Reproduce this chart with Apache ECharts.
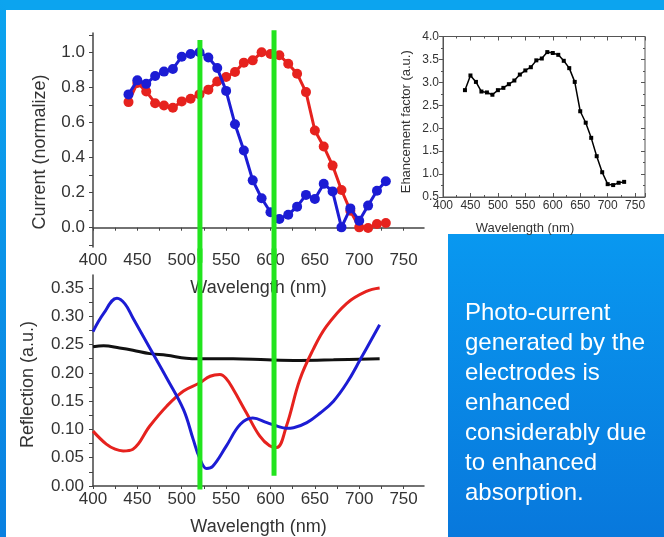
<!DOCTYPE html>
<html><head><meta charset="utf-8">
<script src="https://cdn.jsdelivr.net/npm/echarts@6/dist/echarts.min.js"></script>
<style>html,body{margin:0;padding:0;width:664px;height:537px;overflow:hidden;background:#fff}#c{width:664px;height:537px}</style>
</head><body><div id="c"></div>
<script>
// ---- Data ----
const wavelengths = [440,450,460,470,480,490,500,510,520,530,540,550,560,570,580,590,600,610,620,630,640,650,660,670,680,690,700,710,720,730];
const currentBlue = [0.76,0.84,0.82,0.865,0.89,0.905,0.975,0.99,1.0,0.97,0.91,0.78,0.59,0.44,0.27,0.168,0.088,0.05,0.074,0.12,0.187,0.164,0.25,0.207,0.002,0.11,0.04,0.126,0.211,0.265];
const currentRed = [0.716,0.825,0.777,0.71,0.697,0.684,0.72,0.735,0.76,0.787,0.834,0.859,0.888,0.941,0.954,1.0,0.99,0.983,0.935,0.878,0.773,0.554,0.463,0.354,0.215,0.097,0.002,-0.002,0.021,0.027];
const enhancement = [2.83,3.15,3.01,2.80,2.78,2.73,2.83,2.88,2.96,3.04,3.17,3.26,3.33,3.48,3.52,3.66,3.64,3.60,3.47,3.31,3.01,2.37,2.12,1.79,1.39,1.04,0.78,0.76,0.81,0.83];

const reflBlueWl = [400,412,427,436,445,464,483,502,513,520,528,535,550,566,580,596,607,618,626,641,656,671,686,701,723];
const reflBlue   = [0.273,0.305,0.332,0.322,0.297,0.244,0.191,0.135,0.082,0.05,0.031,0.035,0.07,0.109,0.12,0.112,0.106,0.102,0.103,0.112,0.129,0.150,0.182,0.223,0.285];
const reflRedWl = [400,415,425,434,445,464,483,502,520,532,543,550,558,573,588,599,607,618,633,648,663,686,708,723];
const reflRed   = [0.097,0.074,0.065,0.062,0.065,0.106,0.141,0.168,0.182,0.194,0.197,0.19,0.171,0.129,0.088,0.071,0.068,0.106,0.188,0.241,0.282,0.323,0.344,0.350];
const reflBlackWl = [400,412,430,445,464,483,505,520,558,596,633,671,723];
const reflBlack   = [0.246,0.248,0.244,0.240,0.234,0.231,0.226,0.225,0.225,0.223,0.222,0.223,0.225];

// green marker lines (wavelength, extent in current units and reflection units)
const greenWl = [520.5, 604];
const greenTopCurrent = [1.07, 1.125];
const greenBottomRefl = [-0.006, 0.018];

const xTicks = [400,450,500,550,600,650,700,750];
const xMinorTicks = [400,425,450,475,500,525,550,575,600,625,650,675,700,725,750];
const currentTicks = [0,0.2,0.4,0.6,0.8,1.0];
const currentMinor = [-0.1,0,0.1,0.2,0.3,0.4,0.5,0.6,0.7,0.8,0.9,1.0,1.1];
const reflTicks = [0,0.05,0.10,0.15,0.20,0.25,0.30,0.35];
const reflMinor = [0,0.025,0.05,0.075,0.1,0.125,0.15,0.175,0.2,0.225,0.25,0.275,0.3,0.325,0.35];

const textLines = ['Photo-current','generated by the','electrodes is','enhanced','considerably due','to enhanced','absorption.'];

// ---- Chart ----
const FONT = '"Liberation Sans", Arial, sans-serif';
const AX = '#444';
const LBL = '#333';
const zip = (xs, ys) => xs.map((x, i) => [x, ys[i]]);
const chart = echarts.init(document.getElementById('c'));

function mainX(gridIndex, name) {
  return {
    type: 'value', gridIndex, min: 400, max: 773,
    axisLine: {show: true, lineStyle: {color: AX, width: 1.5}},
    axisTick: {show: true, customValues: xMinorTicks, length: 3, lineStyle: {color: AX}},
    axisLabel: {customValues: xTicks, color: LBL, fontSize: 17, fontFamily: FONT, margin: 5},
    splitLine: {show: false},
    name, nameLocation: 'middle', nameGap: 32,
    nameTextStyle: {color: LBL, fontSize: 18, fontFamily: FONT}
  };
}

const option = {
  animation: false,
  backgroundColor: '#ffffff',
  graphic: [
    {type: 'rect', shape: {x: 0, y: 0, width: 664, height: 10}, style: {fill: '#0ca4ef'}, z: -10},
    {type: 'rect', shape: {x: 0, y: 0, width: 6, height: 537},
      style: {fill: new echarts.graphic.LinearGradient(0, 0, 0, 1, [{offset: 0, color: '#0ca4ef'}, {offset: 1, color: '#0a80e0'}])}, z: -10},
    {type: 'rect', shape: {x: 448, y: 234, width: 216, height: 303},
      style: {fill: new echarts.graphic.LinearGradient(0, 0, 0, 1, [{offset: 0, color: '#0998f0'}, {offset: 1, color: '#0878dc'}])}, z: -10},
    {type: 'text', x: 465, y: 298, z: 5,
      style: {text: textLines.join('\n'), fill: '#ffffff', font: '24px ' + FONT, lineHeight: 30, verticalAlign: 'top', align: 'left'}}
  ],
  grid: [
    {left: 93, top: 33, width: 331, height: 214},
    {left: 93, top: 275, width: 331, height: 212},
    {left: 443, top: 36.5, width: 202, height: 160.5, show: true, borderColor: '#555', borderWidth: 1, backgroundColor: 'transparent'}
  ],
  xAxis: [
    mainX(0, 'Wavelength (nm)'),
    mainX(1, 'Wavelength (nm)'),
    {type: 'value', gridIndex: 2, min: 400, max: 768, interval: 50,
      axisLine: {show: true, lineStyle: {color: '#555', width: 1}},
      axisTick: {show: true, inside: true, length: 4, lineStyle: {color: '#555'}},
      minorTick: {show: true, splitNumber: 2, length: 2, lineStyle: {color: '#555'}},
      axisLabel: {color: LBL, fontSize: 12, fontFamily: FONT, margin: 3, showMaxLabel: false},
      splitLine: {show: false}, minorSplitLine: {show: false},
      name: 'Wavelength (nm)', nameLocation: 'middle', nameGap: 25,
      nameTextStyle: {color: LBL, fontSize: 13, fontFamily: FONT, padding: [0, 38, 0, 0]}},
    {type: 'value', gridIndex: 2, position: 'top', min: 400, max: 768, interval: 50,
      axisLine: {show: false}, axisLabel: {show: false},
      axisTick: {show: true, inside: true, length: 4, lineStyle: {color: '#555'}},
      minorTick: {show: true, splitNumber: 2, length: 2, lineStyle: {color: '#555'}},
      splitLine: {show: false}}
  ],
  yAxis: [
    {type: 'value', gridIndex: 0, min: -0.11, max: 1.11,
      axisLine: {show: true, lineStyle: {color: AX, width: 1.5}},
      axisTick: {show: true, customValues: currentMinor, length: 4, lineStyle: {color: AX}},
      axisLabel: {customValues: currentTicks, formatter: v => v.toFixed(1), color: LBL, fontSize: 17, fontFamily: FONT, margin: 8},
      splitLine: {show: false},
      name: 'Current (normalize)', nameLocation: 'middle', nameGap: 44,
      nameTextStyle: {color: LBL, fontSize: 18, fontFamily: FONT, padding: [0, 24, 0, 0]}},
    {type: 'value', gridIndex: 1, min: 0, max: 0.373,
      axisLine: {show: true, lineStyle: {color: AX, width: 1.5}},
      axisTick: {show: true, customValues: reflMinor, length: 4, lineStyle: {color: AX}},
      axisLabel: {customValues: reflTicks, formatter: v => v.toFixed(2), color: LBL, fontSize: 17, fontFamily: FONT, margin: 9},
      splitLine: {show: false},
      name: 'Reflection (a.u.)', nameLocation: 'middle', nameGap: 56,
      nameTextStyle: {color: LBL, fontSize: 18, fontFamily: FONT, padding: [0, 8, 0, 0]}},
    {type: 'value', gridIndex: 2, min: 0.5, max: 4.0, interval: 0.5,
      axisLine: {show: true, lineStyle: {color: '#555', width: 1}},
      axisTick: {show: true, length: 4, lineStyle: {color: '#555'}},
      minorTick: {show: true, splitNumber: 2, length: 2, lineStyle: {color: '#555'}},
      axisLabel: {formatter: v => v.toFixed(1), color: LBL, fontSize: 12, fontFamily: FONT, margin: 4},
      splitLine: {show: false}, minorSplitLine: {show: false},
      name: 'Ehancement factor (a.u.)', nameLocation: 'middle', nameGap: 30,
      nameTextStyle: {color: LBL, fontSize: 13, fontFamily: FONT, padding: [0, 10, 0, 0]}},
    {type: 'value', gridIndex: 2, position: 'right', min: 0.5, max: 4.0, interval: 0.5,
      axisLine: {show: false}, axisLabel: {show: false},
      axisTick: {show: true, inside: true, length: 4, lineStyle: {color: '#555'}},
      minorTick: {show: true, splitNumber: 2, length: 2, lineStyle: {color: '#555'}},
      splitLine: {show: false}}
  ],
  series: [
    {type: 'line', xAxisIndex: 0, yAxisIndex: 0, data: zip(wavelengths, currentRed), color: '#e6221e',
      symbol: 'circle', symbolSize: 10, lineStyle: {width: 3}, z: 3},
    {type: 'line', xAxisIndex: 0, yAxisIndex: 0, data: zip(wavelengths, currentBlue), color: '#1c1cd4',
      symbol: 'circle', symbolSize: 10, lineStyle: {width: 3}, z: 4},
    {type: 'line', xAxisIndex: 1, yAxisIndex: 1, data: zip(reflBlackWl, reflBlack), color: '#111111',
      showSymbol: false, smooth: 0.4, lineStyle: {width: 3}},
    {type: 'line', xAxisIndex: 1, yAxisIndex: 1, data: zip(reflRedWl, reflRed), color: '#e6221e',
      showSymbol: false, smooth: 0.4, lineStyle: {width: 3}},
    {type: 'line', xAxisIndex: 1, yAxisIndex: 1, data: zip(reflBlueWl, reflBlue), color: '#1c1cd4',
      showSymbol: false, smooth: 0.4, lineStyle: {width: 3}},
    {type: 'line', xAxisIndex: 2, yAxisIndex: 2, data: zip(wavelengths, enhancement), color: '#000000',
      symbol: 'rect', symbolSize: 4, lineStyle: {width: 1.5}},
    // green marker lines: upper part (current units) and lower part (reflection units)
    ...greenWl.map((w, i) => ({type: 'line', xAxisIndex: 0, yAxisIndex: 0, clip: false, z: 10,
      data: [[w, greenTopCurrent[i]], [w, -0.2]], color: '#22e41e', symbol: 'none', lineStyle: {width: 5}})),
    ...greenWl.map((w, i) => ({type: 'line', xAxisIndex: 1, yAxisIndex: 1, clip: false, z: 10,
      data: [[w, 0.42], [w, greenBottomRefl[i]]], color: '#22e41e', symbol: 'none', lineStyle: {width: 5}}))
  ]
};
chart.setOption(option);
</script></body></html>
